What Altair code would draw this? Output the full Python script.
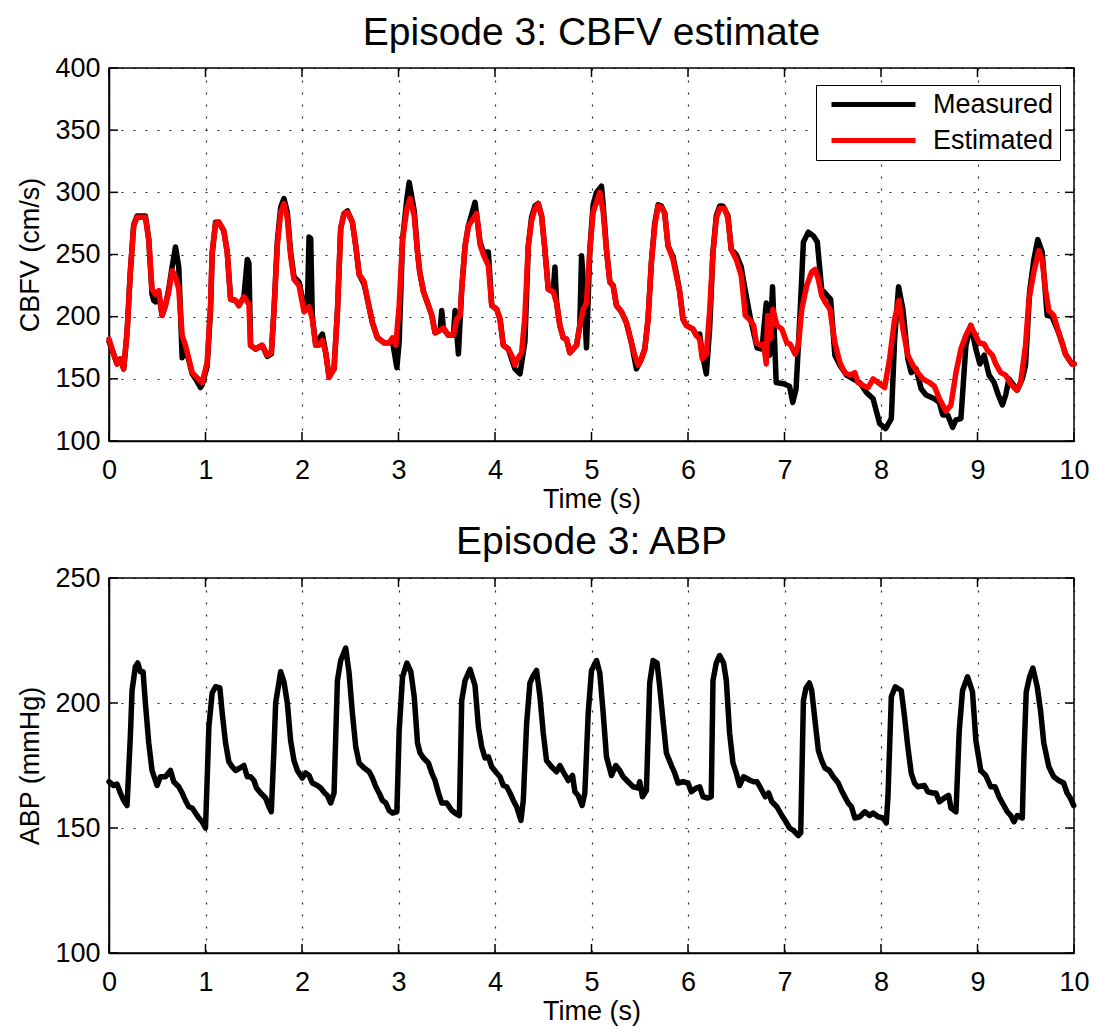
import altair as alt
import pandas as pd

FONT = "Liberation Sans"

# Cerebral blood flow velocity (cm/s): (time in s, value)
cbfv_measured = [
    (0.00, 180), (0.048, 170), (0.083, 162), (0.118, 166), (0.152, 158), (0.187, 187),
    (0.221, 236), (0.256, 274), (0.291, 281), (0.377, 281), (0.412, 262), (0.446, 218),
    (0.464, 213), (0.481, 212), (0.516, 218), (0.550, 201), (0.585, 209), (0.619, 222),
    (0.654, 240), (0.689, 256), (0.723, 240), (0.758, 167), (0.792, 174), (0.827, 165),
    (0.862, 154), (0.913, 148), (0.948, 143), (0.965, 145), (1.017, 160), (1.052, 205),
    (1.069, 250), (1.104, 276), (1.138, 276), (1.190, 269), (1.225, 252), (1.260, 214),
    (1.311, 213), (1.346, 209), (1.398, 216), (1.433, 246), (1.450, 243), (1.467, 177),
    (1.519, 174), (1.588, 177), (1.640, 168), (1.682, 170), (1.709, 204), (1.744, 260),
    (1.779, 288), (1.813, 295), (1.848, 284), (1.882, 252), (1.917, 232), (1.969, 228),
    (2.021, 208), (2.056, 210), (2.073, 264), (2.090, 263), (2.107, 200), (2.142, 177),
    (2.176, 182), (2.211, 186), (2.246, 171), (2.280, 152), (2.332, 158), (2.367, 204),
    (2.401, 271), (2.436, 283), (2.471, 285), (2.522, 276), (2.557, 257), (2.592, 234),
    (2.644, 226), (2.678, 214), (2.730, 195), (2.782, 183), (2.851, 179), (2.903, 179),
    (2.938, 180), (2.972, 164), (2.983, 159), (3.007, 180), (3.042, 262), (3.087, 295),
    (3.111, 308), (3.163, 285), (3.197, 252), (3.220, 236), (3.259, 220), (3.310, 209),
    (3.345, 201), (3.379, 187), (3.431, 189), (3.448, 205), (3.466, 190), (3.517, 185),
    (3.569, 185), (3.586, 205), (3.621, 170), (3.655, 222), (3.690, 257), (3.724, 273),
    (3.793, 292), (3.845, 260), (3.879, 252), (3.931, 252), (3.966, 209), (4.017, 206),
    (4.052, 198), (4.086, 177), (4.138, 174), (4.172, 166), (4.207, 158), (4.259, 154),
    (4.310, 180), (4.345, 257), (4.379, 280), (4.414, 289), (4.448, 291), (4.483, 281),
    (4.517, 254), (4.552, 222), (4.603, 220), (4.621, 240), (4.638, 212), (4.672, 193),
    (4.707, 183), (4.741, 182), (4.776, 171), (4.810, 174), (4.845, 177), (4.879, 193),
    (4.897, 249), (4.914, 230), (4.948, 175), (4.983, 254), (5.017, 290), (5.052, 300),
    (5.103, 305), (5.121, 290), (5.155, 254), (5.190, 228), (5.224, 225), (5.259, 209),
    (5.310, 204), (5.362, 195), (5.414, 179), (5.448, 165), (5.466, 158), (5.517, 166),
    (5.552, 174), (5.586, 198), (5.621, 244), (5.655, 275), (5.690, 290), (5.724, 289),
    (5.759, 283), (5.793, 257), (5.845, 248), (5.879, 235), (5.914, 220), (5.948, 198),
    (5.983, 193), (6.052, 190), (6.086, 185), (6.121, 186), (6.148, 170), (6.190, 154),
    (6.224, 190), (6.259, 252), (6.293, 281), (6.328, 289), (6.362, 289), (6.414, 281),
    (6.448, 254), (6.500, 250), (6.552, 240), (6.577, 228), (6.646, 199), (6.715, 175),
    (6.766, 174), (6.811, 211), (6.845, 169), (6.876, 224), (6.914, 147), (6.990, 146),
    (7.052, 144), (7.086, 131), (7.120, 142), (7.162, 204), (7.196, 260), (7.247, 268),
    (7.299, 265), (7.340, 260), (7.385, 222), (7.443, 217), (7.478, 214), (7.522, 169),
    (7.574, 161), (7.643, 153), (7.711, 150), (7.780, 147), (7.849, 139), (7.918, 134),
    (7.986, 114), (8.048, 110), (8.107, 118), (8.141, 182), (8.182, 224), (8.227, 206),
    (8.278, 166), (8.313, 155), (8.364, 158), (8.416, 142), (8.467, 137), (8.553, 134),
    (8.605, 131), (8.639, 121), (8.691, 121), (8.742, 111), (8.777, 117), (8.828, 118),
    (8.880, 177), (8.931, 193), (8.983, 174), (9.024, 162), (9.069, 169), (9.120, 153),
    (9.172, 147), (9.216, 137), (9.258, 129), (9.292, 137), (9.326, 150), (9.412, 141),
    (9.464, 150), (9.498, 161), (9.540, 220), (9.584, 246), (9.625, 262), (9.670, 252),
    (9.722, 201), (9.773, 200), (9.842, 187), (9.876, 179), (9.911, 170), (9.945, 166),
    (9.979, 162), (10.0, 162),
]

cbfv_estimated = [
    (0.00, 182), (0.048, 170), (0.083, 162), (0.118, 166), (0.152, 158), (0.187, 187),
    (0.221, 236), (0.256, 273), (0.291, 280), (0.377, 280), (0.412, 262), (0.446, 222),
    (0.481, 218), (0.516, 221), (0.550, 201), (0.585, 209), (0.619, 220), (0.654, 237),
    (0.689, 232), (0.723, 222), (0.758, 185), (0.792, 177), (0.827, 166), (0.862, 155),
    (0.913, 151), (0.965, 147), (1.017, 163), (1.052, 209), (1.069, 252), (1.104, 275),
    (1.138, 276), (1.190, 269), (1.225, 252), (1.260, 214), (1.311, 213), (1.346, 209),
    (1.398, 216), (1.450, 210), (1.467, 177), (1.519, 174), (1.588, 177), (1.640, 169),
    (1.682, 171), (1.709, 204), (1.744, 257), (1.779, 284), (1.813, 291), (1.848, 279),
    (1.882, 249), (1.917, 230), (1.969, 225), (2.021, 204), (2.073, 208), (2.107, 198),
    (2.142, 177), (2.176, 177), (2.211, 181), (2.246, 171), (2.280, 151), (2.332, 158),
    (2.367, 204), (2.401, 271), (2.436, 283), (2.471, 284), (2.522, 276), (2.557, 257),
    (2.592, 234), (2.644, 228), (2.678, 214), (2.730, 195), (2.782, 183), (2.851, 179),
    (2.903, 179), (2.938, 183), (2.972, 177), (3.007, 209), (3.042, 262), (3.087, 287),
    (3.121, 295), (3.163, 281), (3.197, 252), (3.220, 236), (3.259, 220), (3.310, 209),
    (3.345, 201), (3.379, 187), (3.431, 189), (3.466, 191), (3.517, 185), (3.569, 185),
    (3.603, 198), (3.638, 201), (3.655, 222), (3.690, 257), (3.724, 273), (3.776, 279),
    (3.810, 283), (3.845, 258), (3.879, 250), (3.931, 241), (3.966, 209), (4.017, 206),
    (4.052, 198), (4.086, 177), (4.138, 174), (4.172, 169), (4.207, 161), (4.241, 167),
    (4.276, 171), (4.310, 201), (4.345, 257), (4.379, 277), (4.414, 287), (4.448, 291),
    (4.483, 281), (4.517, 254), (4.552, 222), (4.603, 220), (4.638, 211), (4.672, 193),
    (4.707, 183), (4.741, 182), (4.776, 171), (4.810, 174), (4.845, 177), (4.879, 193),
    (4.914, 206), (4.948, 211), (4.983, 254), (5.017, 284), (5.052, 292), (5.086, 300),
    (5.121, 284), (5.155, 254), (5.190, 228), (5.224, 225), (5.259, 209), (5.310, 204),
    (5.362, 195), (5.414, 179), (5.448, 169), (5.483, 161), (5.517, 166), (5.552, 174),
    (5.586, 198), (5.621, 244), (5.655, 273), (5.690, 289), (5.724, 288), (5.759, 283),
    (5.793, 257), (5.845, 246), (5.879, 233), (5.914, 220), (5.948, 198), (5.983, 193),
    (6.052, 190), (6.086, 185), (6.121, 182), (6.148, 166), (6.190, 170), (6.224, 204),
    (6.259, 252), (6.293, 279), (6.328, 287), (6.379, 287), (6.414, 279), (6.448, 254),
    (6.500, 246), (6.552, 233), (6.594, 201), (6.646, 197), (6.680, 193), (6.708, 179),
    (6.749, 177), (6.784, 178), (6.811, 162), (6.825, 201), (6.852, 182), (6.880, 206),
    (6.921, 193), (6.973, 190), (7.024, 179), (7.058, 178), (7.110, 170), (7.144, 177),
    (7.179, 206), (7.230, 225), (7.282, 236), (7.316, 238), (7.351, 230), (7.385, 217),
    (7.419, 212), (7.471, 206), (7.522, 179), (7.574, 163), (7.625, 155), (7.677, 153),
    (7.729, 155), (7.763, 147), (7.832, 144), (7.866, 143), (7.918, 150), (7.969, 147),
    (8.038, 143), (8.089, 166), (8.141, 198), (8.186, 213), (8.227, 190), (8.278, 169),
    (8.330, 161), (8.381, 155), (8.433, 150), (8.502, 147), (8.553, 144), (8.605, 134),
    (8.674, 124), (8.725, 129), (8.777, 155), (8.828, 174), (8.880, 185), (8.931, 193),
    (8.966, 187), (9.017, 179), (9.069, 178), (9.103, 173), (9.155, 169), (9.189, 162),
    (9.241, 155), (9.292, 153), (9.344, 146), (9.405, 141), (9.447, 147), (9.498, 177),
    (9.533, 214), (9.584, 236), (9.636, 253), (9.670, 246), (9.704, 222), (9.739, 205),
    (9.790, 201), (9.842, 187), (9.876, 179), (9.911, 170), (9.945, 166), (9.979, 162),
    (10.0, 162),
]

# Arterial blood pressure (mmHg): (time in s, value)
abp_measured = [
    (0.00, 168.5), (0.048, 167), (0.083, 167.6), (0.118, 164), (0.152, 161), (0.187, 159),
    (0.221, 186.5), (0.239, 205), (0.273, 214.5), (0.298, 216), (0.325, 212.5), (0.353, 212.5),
    (0.377, 200), (0.412, 184), (0.446, 173), (0.498, 167), (0.533, 170.5), (0.585, 170.5),
    (0.637, 173), (0.671, 168.5), (0.723, 166.5), (0.758, 164), (0.792, 161), (0.827, 158.5),
    (0.862, 158), (0.896, 156), (0.931, 154), (0.965, 152.5), (1.000, 150), (1.017, 169),
    (1.035, 190.5), (1.069, 204), (1.104, 206.5), (1.149, 206), (1.173, 196), (1.208, 184),
    (1.242, 176.5), (1.277, 174.5), (1.311, 173), (1.356, 174), (1.398, 175), (1.433, 170.5),
    (1.467, 170.5), (1.502, 169), (1.529, 166), (1.571, 164), (1.623, 162), (1.657, 158.5),
    (1.682, 156.5), (1.709, 181), (1.727, 200), (1.779, 212.5), (1.813, 208.5), (1.848, 200),
    (1.882, 185), (1.917, 177), (1.952, 173), (2.003, 170), (2.038, 172), (2.073, 171),
    (2.107, 168), (2.159, 167), (2.194, 166), (2.235, 164), (2.263, 163), (2.298, 160),
    (2.332, 164), (2.367, 209), (2.401, 217), (2.453, 222), (2.488, 212), (2.522, 196),
    (2.557, 182.5), (2.592, 176), (2.644, 174), (2.696, 172.5), (2.730, 170), (2.765, 166.5),
    (2.799, 164), (2.834, 161), (2.869, 160), (2.903, 157), (2.938, 156), (2.983, 156.5),
    (3.007, 189), (3.042, 210.5), (3.087, 216), (3.128, 212.5), (3.163, 202.5), (3.197, 184),
    (3.224, 180), (3.259, 178), (3.310, 176), (3.345, 172), (3.379, 169), (3.414, 164),
    (3.448, 160), (3.500, 160), (3.552, 157), (3.586, 156), (3.631, 155), (3.655, 201),
    (3.690, 209), (3.741, 213.5), (3.793, 207), (3.828, 190.5), (3.862, 182.5), (3.897, 178),
    (3.931, 178.5), (3.966, 174.5), (4.017, 172), (4.052, 170.5), (4.086, 167), (4.121, 166.5),
    (4.155, 164), (4.190, 161), (4.224, 158.5), (4.269, 153), (4.293, 161), (4.328, 192),
    (4.362, 208), (4.397, 211), (4.431, 213), (4.466, 202.5), (4.500, 188), (4.534, 177),
    (4.586, 174.5), (4.638, 172.5), (4.672, 175), (4.707, 172.5), (4.759, 169), (4.803, 171),
    (4.828, 164.5), (4.862, 163), (4.903, 159), (4.931, 164), (4.966, 196), (5.000, 213),
    (5.052, 217), (5.086, 212), (5.121, 196), (5.155, 178.5), (5.207, 171), (5.252, 175),
    (5.293, 173), (5.328, 170.5), (5.379, 168.5), (5.431, 166.5), (5.483, 166), (5.500, 168.5),
    (5.528, 162.5), (5.569, 165), (5.603, 208), (5.638, 217), (5.679, 216), (5.707, 206.5),
    (5.741, 193), (5.776, 180), (5.828, 175), (5.862, 172), (5.897, 168), (5.948, 168.5),
    (6.000, 168), (6.034, 164.5), (6.086, 166), (6.121, 166.5), (6.155, 162.5), (6.207, 162),
    (6.241, 162.5), (6.259, 209), (6.293, 216), (6.328, 219), (6.369, 216), (6.397, 209),
    (6.431, 188), (6.466, 176), (6.500, 172), (6.534, 167), (6.576, 170.5), (6.646, 169),
    (6.680, 168.5), (6.715, 168.5), (6.766, 165), (6.801, 162.5), (6.835, 164), (6.869, 160.5),
    (6.921, 158.5), (6.973, 155), (7.007, 153), (7.052, 150), (7.093, 149), (7.144, 147),
    (7.168, 148), (7.196, 201), (7.223, 206), (7.258, 208), (7.282, 205), (7.316, 193),
    (7.351, 181), (7.385, 177), (7.419, 174), (7.464, 173), (7.505, 170.5), (7.557, 168),
    (7.591, 165), (7.625, 162.5), (7.660, 160), (7.694, 158.5), (7.729, 154), (7.780, 154.5),
    (7.832, 156.5), (7.883, 155), (7.918, 156), (7.969, 154.5), (8.021, 154), (8.055, 152),
    (8.072, 162.5), (8.107, 202.5), (8.148, 206.5), (8.210, 205), (8.244, 194.5), (8.278, 182.5),
    (8.313, 172), (8.347, 168), (8.381, 166.5), (8.450, 167), (8.485, 164.5), (8.536, 164),
    (8.570, 164), (8.605, 160.5), (8.656, 162), (8.701, 163), (8.725, 158), (8.777, 156.5),
    (8.811, 189), (8.845, 205), (8.897, 210.5), (8.948, 204.5), (8.983, 185), (9.034, 173),
    (9.086, 171), (9.137, 166.5), (9.182, 166.5), (9.223, 162.5), (9.258, 160), (9.309, 156.5),
    (9.344, 155), (9.378, 152.5), (9.412, 155), (9.464, 154), (9.481, 178.5), (9.505, 204.5),
    (9.540, 210.5), (9.574, 214), (9.619, 206.5), (9.653, 197), (9.687, 184), (9.739, 174.5),
    (9.790, 170.5), (9.842, 169), (9.893, 168), (9.928, 164), (9.962, 162), (9.997, 159),
]

series_names = ["Measured", "Estimated"]
series_colors = ["black", "red"]
time_ticks = list(range(0, 11))
cbfv_ticks = [100, 150, 200, 250, 300, 350, 400]
abp_ticks = [100, 150, 200, 250]

W, H = 965, 373
TICK = 9
LINE_W = 5.5

cbfv_df = pd.DataFrame(
    [(t, v, "Measured") for t, v in cbfv_measured]
    + [(t, v, "Estimated") for t, v in cbfv_estimated],
    columns=["t", "v", "series"],
)
abp_df = pd.DataFrame(abp_measured, columns=["t", "v"])
xt_df = pd.DataFrame({"t": time_ticks})


def time_x():
    return alt.X(
        "t:Q",
        scale=alt.Scale(domain=[0, 10], nice=False, zero=False),
        axis=alt.Axis(
            values=time_ticks,
            format="d",
            title="Time (s)",
            labelPadding=16,
            titlePadding=3,
            labelFlush=False,
        ),
    )


def inner_ticks(y_values, y_domain, h):
    """MATLAB-style tick marks pointing into the plot box on all four sides."""
    yt_df = pd.DataFrame({"v": y_values})
    xs = alt.X("t:Q", scale=alt.Scale(domain=[0, 10], nice=False))
    ys = alt.Y("v:Q", scale=alt.Scale(domain=y_domain, nice=False))
    base_x = alt.Chart(xt_df).mark_rule(color="black", strokeWidth=1.5)
    base_y = alt.Chart(yt_df).mark_rule(color="black", strokeWidth=1.5)
    return [
        base_x.encode(x=xs, y=alt.value(h), y2=alt.value(h - TICK)),
        base_x.encode(x=xs, y=alt.value(0), y2=alt.value(TICK)),
        base_y.encode(y=ys, x=alt.value(0), x2=alt.value(TICK)),
        base_y.encode(y=ys, x=alt.value(W), x2=alt.value(W - TICK)),
    ]


color_enc = alt.Color(
    "series:N",
    scale=alt.Scale(domain=series_names, range=series_colors),
    legend=alt.Legend(
        title=None,
        orient="none",
        legendX=707,
        legendY=17,
        symbolType="M-4,0H4",
        symbolSize=441,
        symbolStrokeWidth=5,
        symbolOffset=38,
        labelFont=FONT,
        labelFontSize=27,
        labelOffset=46,
        labelColor="black",
        strokeColor="black",
        fillColor="white",
        padding=6,
        rowPadding=8,
    ),
)

cbfv_y = alt.Y(
    "v:Q",
    scale=alt.Scale(domain=[100, 400], nice=False, zero=False),
    axis=alt.Axis(values=cbfv_ticks, title="CBFV (cm/s)"),
)

measured_line = (
    alt.Chart(cbfv_df)
    .transform_filter(alt.datum.series == "Measured")
    .mark_line(strokeWidth=LINE_W, strokeJoin="round", strokeCap="round")
    .encode(x=time_x(), y=cbfv_y, color=color_enc)
)
estimated_line = (
    alt.Chart(cbfv_df)
    .transform_filter(alt.datum.series == "Estimated")
    .mark_line(strokeWidth=LINE_W, strokeJoin="round", strokeCap="round")
    .encode(x=time_x(), y=cbfv_y, color=color_enc)
)

top = alt.layer(
    measured_line, estimated_line, *inner_ticks(cbfv_ticks, [100, 400], H)
).properties(
    width=W,
    height=H,
    title=alt.TitleParams("Episode 3: CBFV estimate", offset=1),
)

abp_line = (
    alt.Chart(abp_df)
    .mark_line(color="black", strokeWidth=LINE_W, strokeJoin="round", strokeCap="round")
    .encode(
        x=time_x(),
        y=alt.Y(
            "v:Q",
            scale=alt.Scale(domain=[100, 250], nice=False, zero=False),
            axis=alt.Axis(values=abp_ticks, title="ABP (mmHg)"),
        ),
    )
)

bottom = alt.layer(abp_line, *inner_ticks(abp_ticks, [100, 250], H + 2)).properties(
    width=W,
    height=H + 2,
    title=alt.TitleParams("Episode 3: ABP", offset=2),
)

chart = (
    alt.vconcat(top, bottom, spacing=9)
    .resolve_scale(y="independent", color="independent")
    .properties(padding={"left": 16, "top": 13, "right": 2, "bottom": 2})
    .configure_axis(
        labelFont=FONT,
        labelFontSize=27,
        labelColor="black",
        labelPadding=9,
        titleFont=FONT,
        titleFontSize=27,
        titleFontWeight="normal",
        titleColor="black",
        titlePadding=10,
        domainColor="black",
        domainWidth=1.5,
        ticks=False,
        grid=True,
        gridColor="black",
        gridDash=[2, 10],
        gridWidth=1.2,
        gridOpacity=0.85,
    )
    .configure_view(stroke="black", strokeWidth=1.5)
    .configure_title(font=FONT, fontSize=39, fontWeight="normal", color="black", anchor="middle")
)

chart.save("out.html", embed_options={"renderer": "svg", "actions": False})
